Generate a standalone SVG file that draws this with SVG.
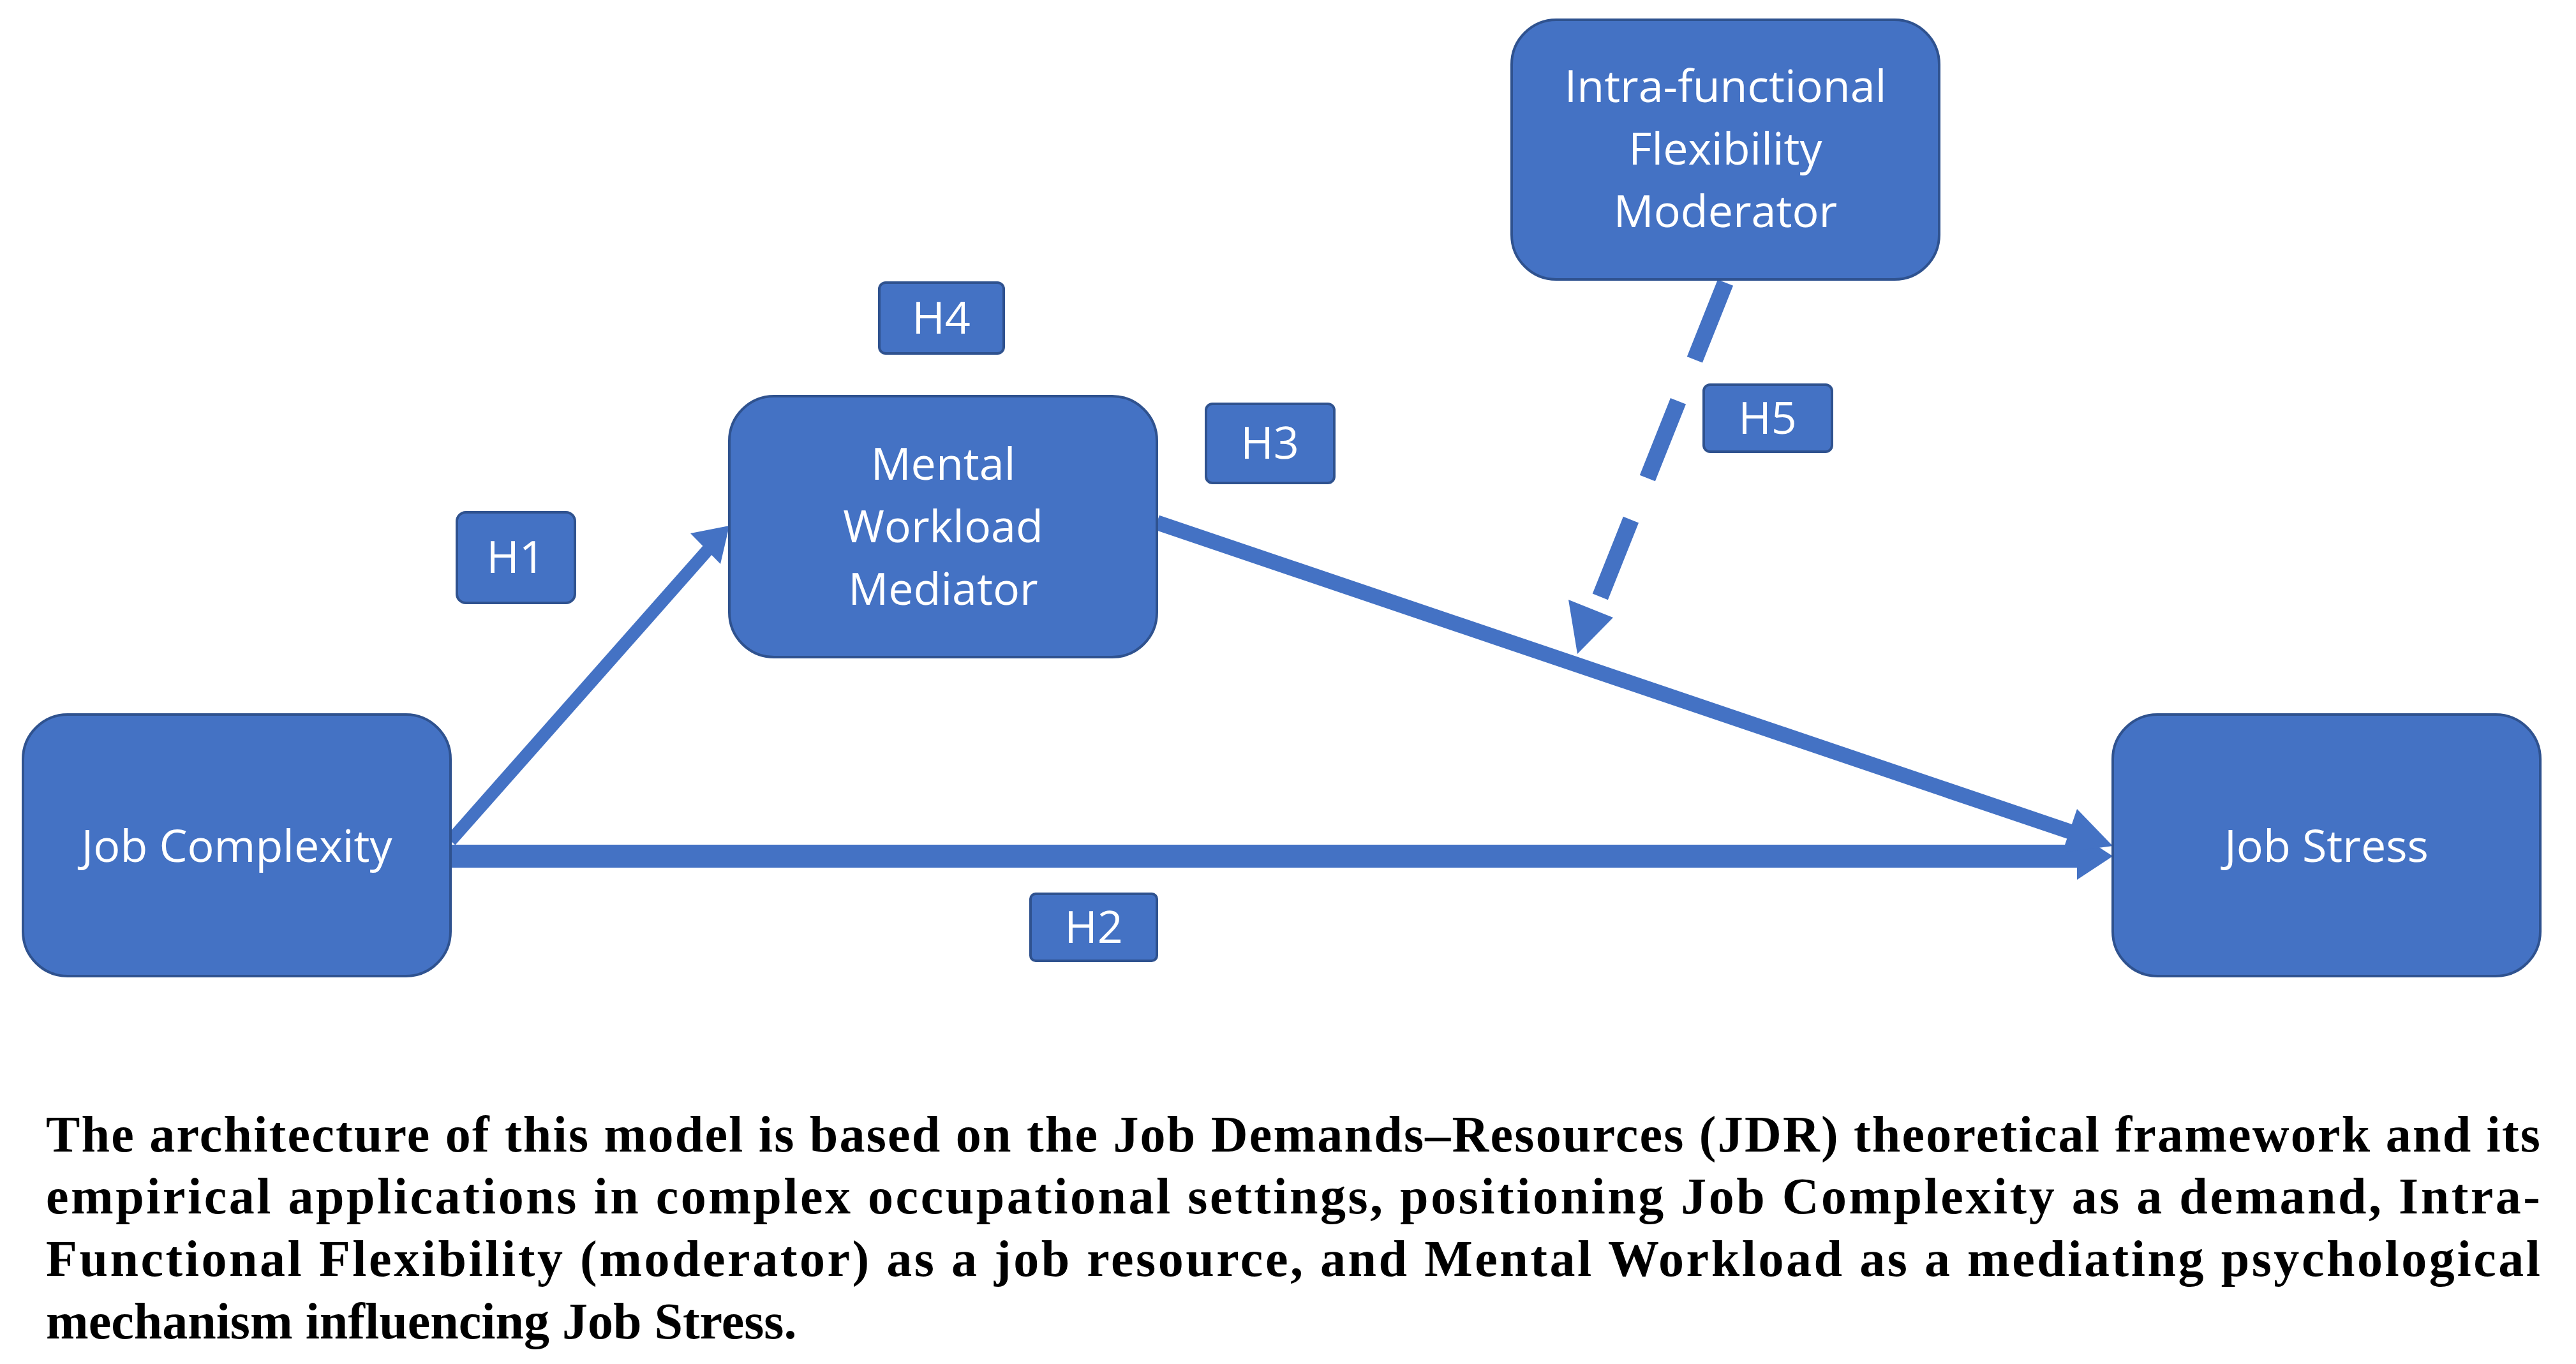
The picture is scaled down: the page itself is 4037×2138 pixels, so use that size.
<svg xmlns="http://www.w3.org/2000/svg" width="4037" height="2138" viewBox="0 0 4037 2138">
<style>
.node{fill:#4472C4;stroke:#2F528F;stroke-width:4}
.nt{font-family:"Open Sans",sans-serif;font-size:70px;fill:#fff;text-anchor:middle}
.lab{fill:#4472C4;stroke:#2F528F;stroke-width:4}
.cap{font-family:"Liberation Serif",serif;font-weight:bold;font-size:80px;fill:#000}
.ln{stroke:#4472C4;fill:none}
.ah{fill:#4472C4}
</style>
<rect width="4037" height="2138" fill="#fff"/>
<g id="connectors">
<line class="ln" x1="706" y1="1342" x2="3260" y2="1342" stroke-width="36"/>
<polygon class="ah" points="3255,1305 3311,1342 3255,1379"/>
<line class="ln" x1="706" y1="1318" x2="1110" y2="861" stroke-width="20"/>
<polygon class="ah" points="1082,836 1143,824 1129,884"/>
<line class="ln" x1="1813" y1="819" x2="3260" y2="1309" stroke-width="24"/>
<polygon class="ah" points="3255,1268 3311,1326 3232,1336"/>
<line class="ln" x1="2704" y1="443" x2="2500" y2="955" stroke-width="26" stroke-dasharray="130,70"/>
<polygon class="ah" points="2458,940 2472,1025 2528,968"/>
</g>
<g id="job-complexity"><rect class="node" x="36" y="1120" width="670" height="410" rx="70"/><text class="nt" x="371" y="1351">Job Complexity</text></g>
<g id="mental-workload"><rect class="node" x="1143" y="621" width="670" height="409" rx="70"/><text class="nt" x="1478" y="752">Mental</text><text class="nt" x="1478" y="850">Workload</text><text class="nt" x="1478" y="948">Mediator</text></g>
<g id="intra-functional"><rect class="node" x="2369" y="31" width="670" height="407" rx="70"/><text class="nt" x="2704" y="160">Intra-functional</text><text class="nt" x="2704" y="258">Flexibility</text><text class="nt" x="2704" y="356">Moderator</text></g>
<g id="job-stress"><rect class="node" x="3311" y="1120" width="670" height="410" rx="70"/><text class="nt" x="3646" y="1351">Job Stress</text></g>
<g id="h1"><rect class="lab" x="716" y="803" width="185" height="142" rx="14"/><text class="nt" x="808" y="898">H1</text></g>
<g id="h2"><rect class="lab" x="1615" y="1401" width="198" height="105" rx="8"/><text class="nt" x="1714" y="1478">H2</text></g>
<g id="h3"><rect class="lab" x="1890" y="633" width="201" height="124" rx="10"/><text class="nt" x="1990" y="719">H3</text></g>
<g id="h4"><rect class="lab" x="1378" y="443" width="195" height="111" rx="10"/><text class="nt" x="1475" y="523">H4</text></g>
<g id="h5"><rect class="lab" x="2670" y="603" width="201" height="105" rx="10"/><text class="nt" x="2770" y="680">H5</text></g>
<g id="caption">
<text class="cap" x="72" y="1805" textLength="3909" lengthAdjust="spacing">The architecture of this model is based on the Job Demands–Resources (JDR) theoretical framework and its</text>
<text class="cap" x="72" y="1902" textLength="3909" lengthAdjust="spacing">empirical applications in complex occupational settings, positioning Job Complexity as a demand, Intra-</text>
<text class="cap" x="72" y="2000" textLength="3909" lengthAdjust="spacing">Functional Flexibility (moderator) as a job resource, and Mental Workload as a mediating psychological</text>
<text class="cap" x="72" y="2098">mechanism influencing Job Stress.</text>
</g>
</svg>
